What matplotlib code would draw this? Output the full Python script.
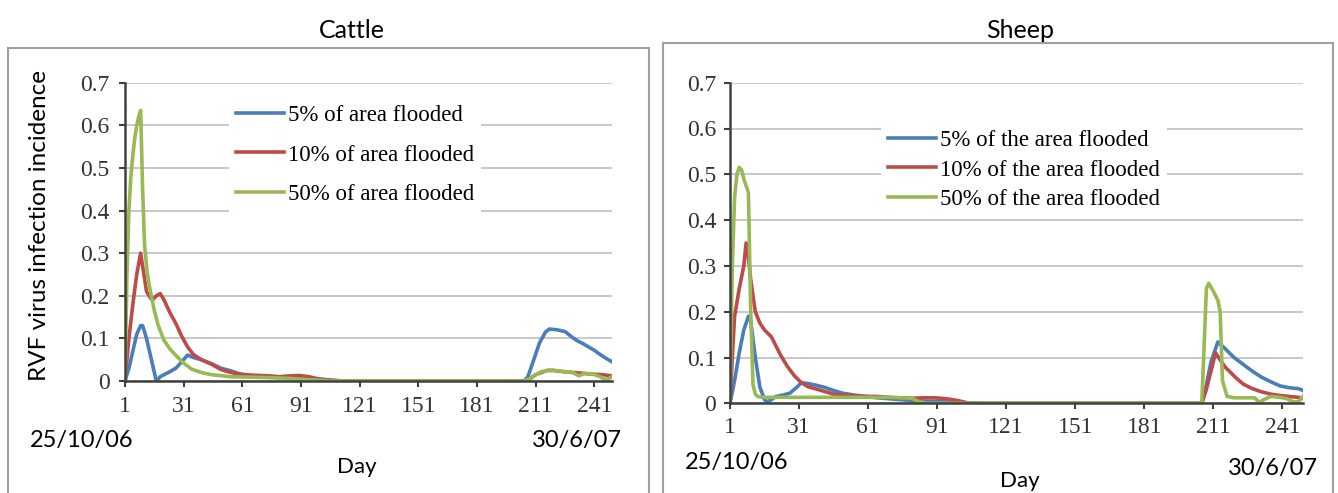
import matplotlib
matplotlib.use("Agg")
import matplotlib.pyplot as plt
from matplotlib.patches import Rectangle

# ---- data ----
x_ticks = [1, 31, 61, 91, 121, 151, 181, 211, 241]
y_ticks = [0, 0.1, 0.2, 0.3, 0.4, 0.5, 0.6, 0.7]
y_tick_labels = ["0", "0.1", "0.2", "0.3", "0.4", "0.5", "0.6", "0.7"]

# Cattle
cattle_5_days = [1, 3, 5, 7, 9, 10, 12, 14, 16, 17, 19, 21, 24, 27, 30, 33, 36, 40, 45,
                 50, 55, 60, 65, 70, 80, 90, 100, 108, 112,
                 205, 207, 210, 213, 216, 218, 222, 226, 229, 232, 235, 238, 241, 244, 247, 250]
cattle_5_vals = [0, 0.03, 0.07, 0.11, 0.13, 0.13, 0.1, 0.06, 0.02, 0.0, 0.01, 0.015, 0.022, 0.03,
                 0.045, 0.061, 0.055, 0.05, 0.041, 0.03, 0.024, 0.016, 0.012, 0.01, 0.008, 0.006,
                 0.004, 0.002, 0,
                 0, 0.01, 0.05, 0.09, 0.115, 0.122, 0.12, 0.116, 0.105, 0.095, 0.088, 0.08, 0.072,
                 0.062, 0.053, 0.045]

cattle_10_days = [1, 3, 5, 7, 9, 10, 12, 14, 15, 17, 19, 21, 24, 27, 30, 33, 36, 40, 45,
                  50, 55, 60, 65, 70, 75, 80, 85, 90, 95, 100, 105, 110,
                  206, 208, 211, 214, 217, 220, 225, 230, 235, 240, 245, 250]
cattle_10_vals = [0, 0.1, 0.18, 0.25, 0.30, 0.27, 0.21, 0.195, 0.19, 0.2, 0.205, 0.19, 0.16,
                  0.135, 0.105, 0.08, 0.062, 0.05, 0.04, 0.027, 0.02, 0.016, 0.014, 0.013, 0.012,
                  0.01, 0.012, 0.013, 0.01, 0.005, 0.002, 0,
                  0, 0.005, 0.015, 0.02, 0.025, 0.025, 0.022, 0.02, 0.018, 0.016, 0.015, 0.012]

cattle_50_days = [1, 2, 3, 4, 5, 6, 7, 8, 9, 10, 11, 12, 13, 14, 16, 18, 21, 24, 27, 31, 35,
                  40, 45, 55, 65, 75, 85, 95, 100, 105,
                  205, 208, 211, 214, 218, 222, 226, 230, 233, 236, 238, 241, 244, 246, 248, 250]
cattle_50_vals = [0, 0.25, 0.4, 0.48, 0.53, 0.57, 0.6, 0.62, 0.635, 0.45, 0.32, 0.27, 0.235, 0.21,
                  0.165, 0.13, 0.095, 0.075, 0.06, 0.042, 0.028, 0.02, 0.015, 0.01, 0.009, 0.008,
                  0.006, 0.003, 0.002, 0,
                  0, 0.006, 0.015, 0.022, 0.025, 0.024, 0.022, 0.02, 0.012, 0.018, 0.017, 0.015,
                  0.01, 0.004, 0.005, 0.01]

# Sheep
sheep_5_days = [1, 3, 5, 7, 9, 10, 12, 14, 16, 17, 19, 21, 24, 27, 30, 32, 35, 38, 42, 46,
                50, 55, 60, 65, 70, 80, 90, 100, 110,
                206, 208, 210, 213, 216, 220, 224, 228, 232, 236, 240, 244, 248, 250]
sheep_5_vals = [0, 0.05, 0.11, 0.16, 0.19, 0.18, 0.1, 0.035, 0.008, 0.003, 0.008, 0.015, 0.018,
                0.022, 0.035, 0.045, 0.043, 0.04, 0.035, 0.028, 0.022, 0.018, 0.015, 0.012,
                0.01, 0.006, 0.004, 0.002, 0,
                0, 0.04, 0.09, 0.134, 0.12, 0.1, 0.085, 0.07, 0.057, 0.047, 0.038, 0.034,
                0.032, 0.028]

sheep_10_days = [1, 2, 3, 5, 7, 8, 9, 10, 12, 14, 16, 19, 23, 26, 29, 32, 35, 38, 42, 46, 50,
                 55, 60, 65, 70, 75, 80, 85, 90, 95, 100, 105,
                 206, 208, 210, 212, 214, 216, 218, 221, 224, 228, 232, 236, 240, 244, 248, 250]
sheep_10_vals = [0, 0.1, 0.19, 0.25, 0.3, 0.35, 0.32, 0.27, 0.2, 0.175, 0.16, 0.145, 0.105,
                 0.08, 0.06, 0.045, 0.036, 0.032, 0.026, 0.02, 0.018, 0.016, 0.015, 0.015,
                 0.013, 0.012, 0.011, 0.012, 0.012, 0.01, 0.006, 0,
                 0, 0.03, 0.07, 0.11, 0.095, 0.08, 0.07, 0.055, 0.042, 0.032, 0.025, 0.02,
                 0.017, 0.015, 0.013, 0.01]

sheep_50_days = [1, 2, 3, 4, 5, 6, 7, 8, 9, 10, 11, 12, 13, 15, 20, 30, 40, 50, 60, 70, 80,
                 83, 86,
                 206, 207, 208, 209, 211, 213, 214, 215, 217, 220, 225, 229, 231, 233, 236,
                 240, 243, 246, 248, 250]
sheep_50_vals = [0, 0.3, 0.45, 0.5, 0.515, 0.51, 0.49, 0.475, 0.46, 0.2, 0.04, 0.02, 0.015,
                 0.013, 0.013, 0.013, 0.013, 0.013, 0.013, 0.013, 0.011, 0.004, 0,
                 0, 0.12, 0.25, 0.262, 0.245, 0.225, 0.2, 0.05, 0.015, 0.012, 0.012, 0.012,
                 0.002, 0.008, 0.015, 0.013, 0.01, 0.003, 0.004, 0.015]

cattle_labels = ["5% of area flooded", "10% of area flooded", "50% of area flooded"]
sheep_labels = ["5% of the area flooded", "10% of the area flooded", "50% of the area flooded"]

COLORS = ["#4a7ebb", "#be4b48", "#98b954"]
SERIF = "Liberation Serif"
SANS = "Lato"
W, H = 1338, 493

# tick labels are serif in the original
plt.rcParams["font.family"] = SERIF
plt.rcParams["xtick.labelsize"] = 17
plt.rcParams["ytick.labelsize"] = 17


def px(x, y):
    """pixel position (from top-left) -> figure fraction"""
    return x / W, 1 - y / H


def style_axes(ax, tick_pad):
    ax.set_xlim(1, 250)
    ax.set_ylim(0, 0.7)
    ax.set_xticks(x_ticks)
    ax.set_yticks(y_ticks)
    ax.set_yticklabels(y_tick_labels)
    ax.yaxis.grid(True, color="#bfbfbf", lw=1.2)
    ax.set_axisbelow(True)
    for side in ("top", "right"):
        ax.spines[side].set_visible(False)
    for side in ("left", "bottom"):
        ax.spines[side].set_color("#404040")
        ax.spines[side].set_linewidth(1.8)
    ax.tick_params(direction="out", length=4, width=1.5, color="#404040",
                   pad=tick_pad, labelcolor="#333333")


fig = plt.figure(figsize=(W / 100, H / 100), dpi=100)

# panel frames
for x0, x1, y0 in [(8, 649, 48), (663, 1333, 43)]:
    fig.add_artist(Rectangle((x0 / W, -0.05), (x1 - x0) / W, 1.05 - y0 / H,
                             transform=fig.transFigure, fill=False,
                             ec="#a0a0a0", lw=1.5))

# ---- Cattle ----
ax1 = fig.add_axes([125 / W, 1 - 381 / H, (612 - 125) / W, (381 - 82.7) / H])
series_c = [(cattle_5_days, cattle_5_vals), (cattle_10_days, cattle_10_vals),
            (cattle_50_days, cattle_50_vals)]
for (d, v), c, lab in zip(series_c, COLORS, cattle_labels):
    ax1.plot(d, v, color=c, lw=2.6, label=lab)
style_axes(ax1, 7)
ax1.legend(loc="center", bbox_to_anchor=px(355, 155), bbox_transform=fig.transFigure,
           prop={"family": SERIF, "size": 16.5}, frameon=True, fancybox=False,
           framealpha=1, edgecolor="none", handlelength=2.1, labelspacing=0.8,
           handletextpad=0.15, borderpad=0.3, borderaxespad=0)

fig.text(*px(352, 30), "Cattle", ha="center", va="center", family=SANS, fontsize=18)
fig.text(*px(40, 225), "RVF virus infection incidence", rotation=90, ha="center",
         va="center", family=SANS, fontsize=17.5)
fig.text(*px(30, 440), "25/10/06", ha="left", va="center", family=SANS, fontsize=17)
fig.text(*px(622, 440), "30/6/07", ha="right", va="center", family=SANS, fontsize=17)
fig.text(*px(357, 467), "Day", ha="center", va="center", family=SANS, fontsize=16)

# ---- Sheep ----
ax2 = fig.add_axes([730 / W, 1 - 403.3 / H, (1303 - 730) / W, (403.3 - 82.7) / H])
series_s = [(sheep_5_days, sheep_5_vals), (sheep_10_days, sheep_10_vals),
            (sheep_50_days, sheep_50_vals)]
for (d, v), c, lab in zip(series_s, COLORS, sheep_labels):
    ax2.plot(d, v, color=c, lw=2.6, label=lab)
style_axes(ax2, 6)
ax2.legend(loc="center", bbox_to_anchor=px(1024, 170), bbox_transform=fig.transFigure,
           prop={"family": SERIF, "size": 16.5}, frameon=True, fancybox=False,
           framealpha=1, edgecolor="none", handlelength=2.1, labelspacing=0.35,
           handletextpad=0.15, borderpad=0.3, borderaxespad=0)

fig.text(*px(1020, 30), "Sheep", ha="center", va="center", family=SANS, fontsize=18)
fig.text(*px(685, 462), "25/10/06", ha="left", va="center", family=SANS, fontsize=17)
fig.text(*px(1318, 468), "30/6/07", ha="right", va="center", family=SANS, fontsize=17)
fig.text(*px(1020, 481), "Day", ha="center", va="center", family=SANS, fontsize=16)

fig.savefig("out.png", dpi=100)
